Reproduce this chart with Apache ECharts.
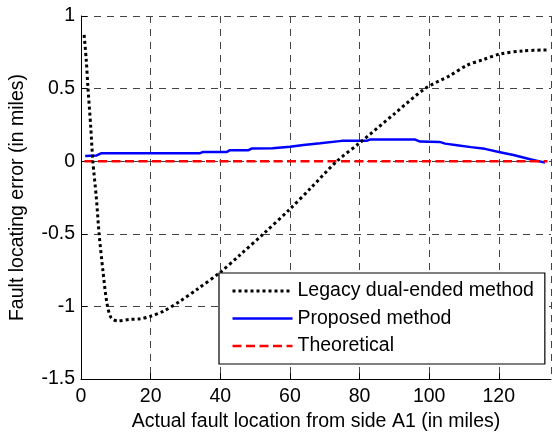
<!DOCTYPE html>
<html>
<head>
<meta charset="utf-8">
<script src="https://cdn.jsdelivr.net/npm/echarts@6/dist/echarts.min.js"></script>
<style>
  html, body { margin: 0; padding: 0; background: #fff; }
  #chart { width: 552px; height: 432px; }
</style>
</head>
<body>
<div id="chart"></div>
<script>
// values (x in miles, y = locating error in miles)
const legacyX = [0.9, 1.5, 2, 2.8, 3.4, 4.4, 5.2, 6.3, 7.5, 8.7, 10.6, 14, 17, 20, 23.6, 28.4, 33.2, 40, 45.7, 52.4, 60, 66, 73.5, 80, 90, 98.8, 106, 110.8, 115.6, 120.3, 127, 133.8]
const legacyY = [0.87, 0.70, 0.505, 0.235, 0, -0.25, -0.5, -0.755, -0.985, -1.08, -1.10, -1.09, -1.085, -1.068, -1.034, -0.965, -0.885, -0.765, -0.645, -0.5, -0.33, -0.185, 0, 0.125, 0.326, 0.5, 0.59, 0.66, 0.70, 0.738, 0.76, 0.766]

const proposedX = [1.2, 4.5, 5.9, 34.2, 35.1, 41.9, 42.8, 48.1, 49, 55, 60, 63.9, 68.7, 74.9, 82, 83, 96, 97.4, 103, 104.6, 108, 112, 116, 120, 124.2, 129, 133.3]
const proposedY = [0.036, 0.04, 0.055, 0.055, 0.064, 0.064, 0.076, 0.076, 0.087, 0.09, 0.10, 0.112, 0.124, 0.14, 0.14, 0.149, 0.149, 0.135, 0.133, 0.121, 0.11, 0.097, 0.085, 0.064, 0.043, 0.014, -0.01]

const theoreticalX = [1, 134]
const theoreticalY = [0, 0]

const seriesNames = ['Legacy dual-ended method', 'Proposed method', 'Theoretical']

function pairs (xs, ys) {
  let out = []
  for (let i = 0; i < xs.length; i++) {
    out.push([xs[i], ys[i]])
  }
  return out
}

const font = 'Liberation Sans, Arial, sans-serif'
const fontSize = 19.5
const gridLine = {
  show: true,
  lineStyle: { color: '#444', width: 1, type: [7, 6] }
}
const legacyLine = { color: '#000', width: 3, type: [3, 3] }
const proposedLine = { color: '#0000ff', width: 2.5 }
const theoreticalLine = { color: '#ff0000', width: 2.5, type: [9, 4.5] }
// the legend shows only the line sample, no marker
const noMarker = { color: 'transparent', borderColor: 'transparent', borderWidth: 0, opacity: 0 }

let chart = echarts.init(document.getElementById('chart'))
chart.setOption({
  animation: false,
  grid: { left: 81, right: 1, top: 16, bottom: 53, containLabel: false, outerBoundsMode: 'none' },
  legend: {
    orient: 'vertical',
    left: 219,
    top: 273,
    padding: [8, 11, 8, 12],
    itemGap: 7.5,
    itemWidth: 60,
    itemHeight: 20,
    borderColor: '#000',
    borderWidth: 1.2,
    backgroundColor: '#fff',
    itemStyle: noMarker,
    textStyle: { fontFamily: font, fontSize: fontSize, color: '#000', padding: [0, 0, 0, 0] },
    data: [
      { name: seriesNames[0], lineStyle: legacyLine, itemStyle: noMarker },
      { name: seriesNames[1], lineStyle: proposedLine, itemStyle: noMarker },
      { name: seriesNames[2], lineStyle: theoreticalLine, itemStyle: noMarker }
    ]
  },
  xAxis: {
    type: 'value',
    min: 0,
    max: 135,
    interval: 20,
    name: 'Actual fault location from side A1 (in miles)',
    nameLocation: 'middle',
    nameGap: 31,
    nameTextStyle: { fontFamily: font, fontSize: fontSize, color: '#000' },
    axisLine: { show: true, onZero: false, lineStyle: { color: '#000', width: 1 } },
    axisTick: { show: true, inside: true, length: 6, lineStyle: { color: '#000' } },
    axisLabel: { fontFamily: font, fontSize: fontSize, color: '#000', margin: 8, showMaxLabel: false },
    splitLine: gridLine
  },
  yAxis: {
    type: 'value',
    min: -1.5,
    max: 1,
    interval: 0.5,
    name: 'Fault locating error (in miles)',
    nameLocation: 'middle',
    nameGap: 53,
    nameTextStyle: { fontFamily: font, fontSize: fontSize, color: '#000' },
    axisLine: { show: true, lineStyle: { color: '#000', width: 1 } },
    axisTick: { show: true, inside: true, length: 6, lineStyle: { color: '#000' } },
    axisLabel: { fontFamily: font, fontSize: fontSize, color: '#000', margin: 6 },
    splitLine: gridLine
  },
  series: [
    {
      name: seriesNames[0],
      type: 'line',
      data: pairs(legacyX, legacyY),
      symbol: 'none',
      smooth: 0.3,
      z: 3,
      lineStyle: legacyLine,
      itemStyle: { color: '#000' }
    },
    {
      name: seriesNames[1],
      type: 'line',
      data: pairs(proposedX, proposedY),
      symbol: 'none',
      z: 2,
      lineStyle: proposedLine,
      itemStyle: { color: '#0000ff' }
    },
    {
      name: seriesNames[2],
      type: 'line',
      data: pairs(theoreticalX, theoreticalY),
      symbol: 'none',
      z: 2,
      lineStyle: theoreticalLine,
      itemStyle: { color: '#ff0000' }
    }
  ]
})
</script>
</body>
</html>
